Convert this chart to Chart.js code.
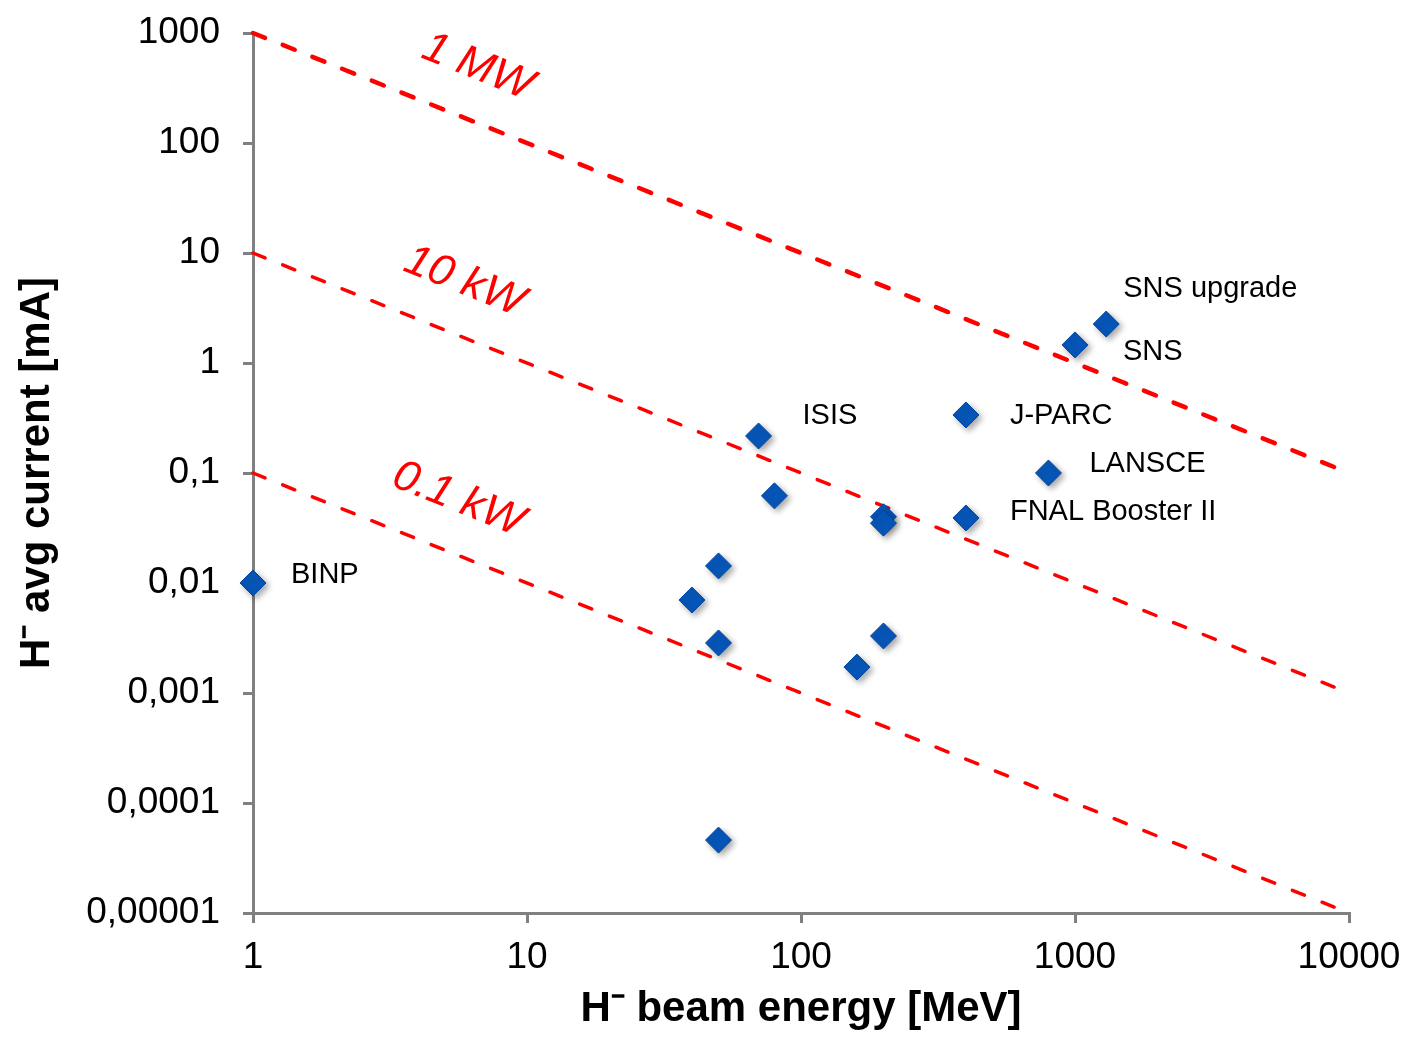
<!DOCTYPE html>
<html lang="en">
<head>
    <meta charset="UTF-8">
    <title>H- sources: current vs energy</title>
    <script src="https://cdn.jsdelivr.net/npm/chart.js"></script>
    <style>
        html, body {
            margin: 0;
            padding: 0;
            background: #ffffff;
        }
        .chart-box {
            position: relative;
            width: 1406px;
            height: 1037px;
        }
    </style>
</head>
<body>
    <div class="chart-box">
        <canvas id="beamChart" width="1406" height="1037"></canvas>
    </div>

    <script>
        // Facilities: beam energy [MeV] and average current [mA]
        const energy  = [1, 40, 50, 50, 50, 70, 80, 200, 200, 160, 200, 400, 400, 800, 1000, 1300];
        const current = [0.01, 0.007, 0.0143, 0.00285, 0.000046, 0.217, 0.062, 0.040, 0.035, 0.00172, 0.0033, 0.337, 0.039, 0.1, 1.46, 2.26];
        const names   = ['BINP', '', '', '', '', 'ISIS', '', '', '', '', '', 'J-PARC', 'FNAL Booster II', 'LANSCE', 'SNS', 'SNS upgrade'];

        // Constant power lines (end points)
        const lineEnergy = [1, 10000];
        const power1MW   = [1000, 0.1];
        const power10kW  = [10, 0.001];
        const power01kW  = [0.1, 0.00001];
        const powerNames = ['1 MW', '10 kW', '0.1 kW'];
        const powerLabelEnergy = [6.6, 5.9, 5.6];

        const xTicks = [1, 10, 100, 1000, 10000];
        const xTickLabels = ['1', '10', '100', '1000', '10000'];
        const yTicks = [0.00001, 0.0001, 0.001, 0.01, 0.1, 1, 10, 100, 1000];
        const yTickLabels = ['0,00001', '0,0001', '0,001', '0,01', '0,1', '1', '10', '100', '1000'];

        const FONT = '"Liberation Sans", Arial, sans-serif';
        const AXIS_GRAY = '#808080';

        // label offsets from the marker, in pixels
        const labelOffsets = {
            'BINP': [38, -8],
            'ISIS': [44, -20],
            'J-PARC': [44, 1],
            'LANSCE': [41, -9],
            'FNAL Booster II': [44, -6],
            'SNS': [48, 7],
            'SNS upgrade': [17, -35]
        };

        const markerShadow = {
            id: 'markerShadow',
            beforeDatasetDraw(chart, args) {
                if (args.index !== 0) return;
                const ctx = chart.ctx;
                ctx.save();
                ctx.shadowColor = 'rgba(0,0,0,0.35)';
                ctx.shadowBlur = 6;
                ctx.shadowOffsetX = 3;
                ctx.shadowOffsetY = 3;
            },
            afterDatasetDraw(chart, args) {
                if (args.index !== 0) return;
                chart.ctx.restore();
            }
        };

        const annotations = {
            id: 'annotations',
            afterDatasetsDraw(chart) {
                const ctx = chart.ctx;
                const xs = chart.scales.x;
                const ys = chart.scales.y;

                // facility names
                ctx.save();
                ctx.font = '29px ' + FONT;
                ctx.fillStyle = '#000000';
                ctx.textAlign = 'left';
                ctx.textBaseline = 'middle';
                names.forEach((n, i) => {
                    if (!n) return;
                    const off = labelOffsets[n] || [40, 0];
                    const px = xs.getPixelForValue(energy[i]);
                    const py = ys.getPixelForValue(current[i]);
                    ctx.fillText(n, px + off[0], py + off[1]);
                });
                ctx.restore();

                // power line labels, rotated along the lines
                const lines = [power1MW, power10kW, power01kW];
                ctx.save();
                ctx.font = 'italic 44px ' + FONT;
                ctx.fillStyle = '#ff0000';
                ctx.textAlign = 'center';
                ctx.textBaseline = 'middle';
                lines.forEach((vals, i) => {
                    const x0 = xs.getPixelForValue(lineEnergy[0]);
                    const y0 = ys.getPixelForValue(vals[0]);
                    const x1 = xs.getPixelForValue(lineEnergy[1]);
                    const y1 = ys.getPixelForValue(vals[1]);
                    const ang = Math.atan2(y1 - y0, x1 - x0);
                    const lx = xs.getPixelForValue(powerLabelEnergy[i]);
                    const ly = y0 + (lx - x0) * (y1 - y0) / (x1 - x0) - 56;
                    ctx.save();
                    ctx.translate(lx, ly);
                    ctx.rotate(ang);
                    ctx.fillText(powerNames[i], 0, 0);
                    ctx.restore();
                });
                ctx.restore();
            }
        };

        function powerLine(vals, width) {
            return {
                type: 'line',
                data: lineEnergy.map((e, i) => ({ x: e, y: vals[i] })),
                borderColor: '#ff0000',
                borderWidth: width,
                borderDash: [13, 19],
                borderCapStyle: 'round',
                pointRadius: 0,
                fill: false,
                clip: false,
                order: 1
            };
        }

        const ctx = document.getElementById('beamChart').getContext('2d');
        new Chart(ctx, {
            type: 'scatter',
            data: {
                datasets: [
                    {
                        label: 'Facilities',
                        data: energy.map((e, i) => ({ x: e, y: current[i] })),
                        pointStyle: 'rectRot',
                        pointRadius: 13,
                        pointHoverRadius: 13,
                        backgroundColor: '#0656b8',
                        borderColor: '#0446a0',
                        borderWidth: 1,
                        clip: false,
                        order: 0
                    },
                    powerLine(power1MW, 4.5),
                    powerLine(power10kW, 3.5),
                    powerLine(power01kW, 3.5)
                ]
            },
            options: {
                responsive: false,
                animation: false,
                layout: {
                    padding: { left: 0, right: 57, top: 33, bottom: 0 }
                },
                plugins: {
                    legend: { display: false },
                    tooltip: { enabled: false }
                },
                scales: {
                    x: {
                        type: 'logarithmic',
                        position: 'bottom',
                        min: 1,
                        max: 10000,
                        afterBuildTicks: s => { s.ticks = xTicks.map(v => ({ value: v })); },
                        afterFit: s => {
                            s.height = 124;
                            s.paddingLeft = 0;
                            s.paddingRight = 0;
                        },
                        ticks: {
                            autoSkip: false,
                            maxRotation: 0,
                            padding: 13,
                            color: '#000000',
                            font: { family: FONT, size: 37 },
                            callback: (v) => xTickLabels[xTicks.indexOf(v)]
                        },
                        grid: {
                            display: true,
                            drawOnChartArea: false,
                            drawTicks: true,
                            tickLength: 10,
                            color: AXIS_GRAY,
                            lineWidth: 3
                        },
                        border: { display: true, color: AXIS_GRAY, width: 3 },
                        title: {
                            display: true,
                            text: 'H\u207B beam energy [MeV]',
                            color: '#000000',
                            font: { family: FONT, size: 42, weight: 'bold' },
                            padding: { top: 0, bottom: 2 }
                        }
                    },
                    y: {
                        type: 'logarithmic',
                        position: 'left',
                        min: 0.00001,
                        max: 1000,
                        afterBuildTicks: s => { s.ticks = yTicks.map(v => ({ value: v })); },
                        afterFit: s => {
                            s.width = 253;
                            s.paddingTop = 0;
                            s.paddingBottom = 0;
                        },
                        ticks: {
                            autoSkip: false,
                            padding: 23,
                            color: '#000000',
                            font: { family: FONT, size: 37 },
                            callback: (v) => {
                                const k = yTicks.findIndex(t => Math.abs(Math.log10(t) - Math.log10(v)) < 1e-6);
                                return k >= 0 ? yTickLabels[k] : '';
                            }
                        },
                        grid: {
                            display: true,
                            drawOnChartArea: false,
                            drawTicks: true,
                            tickLength: 10,
                            color: AXIS_GRAY,
                            lineWidth: 3
                        },
                        border: { display: true, color: AXIS_GRAY, width: 3 },
                        title: {
                            display: true,
                            text: 'H\u207B avg current [mA]',
                            color: '#000000',
                            font: { family: FONT, size: 42, weight: 'bold' },
                            padding: { top: 12, bottom: 0 }
                        }
                    }
                }
            },
            plugins: [markerShadow, annotations]
        });
    </script>
</body>
</html>
